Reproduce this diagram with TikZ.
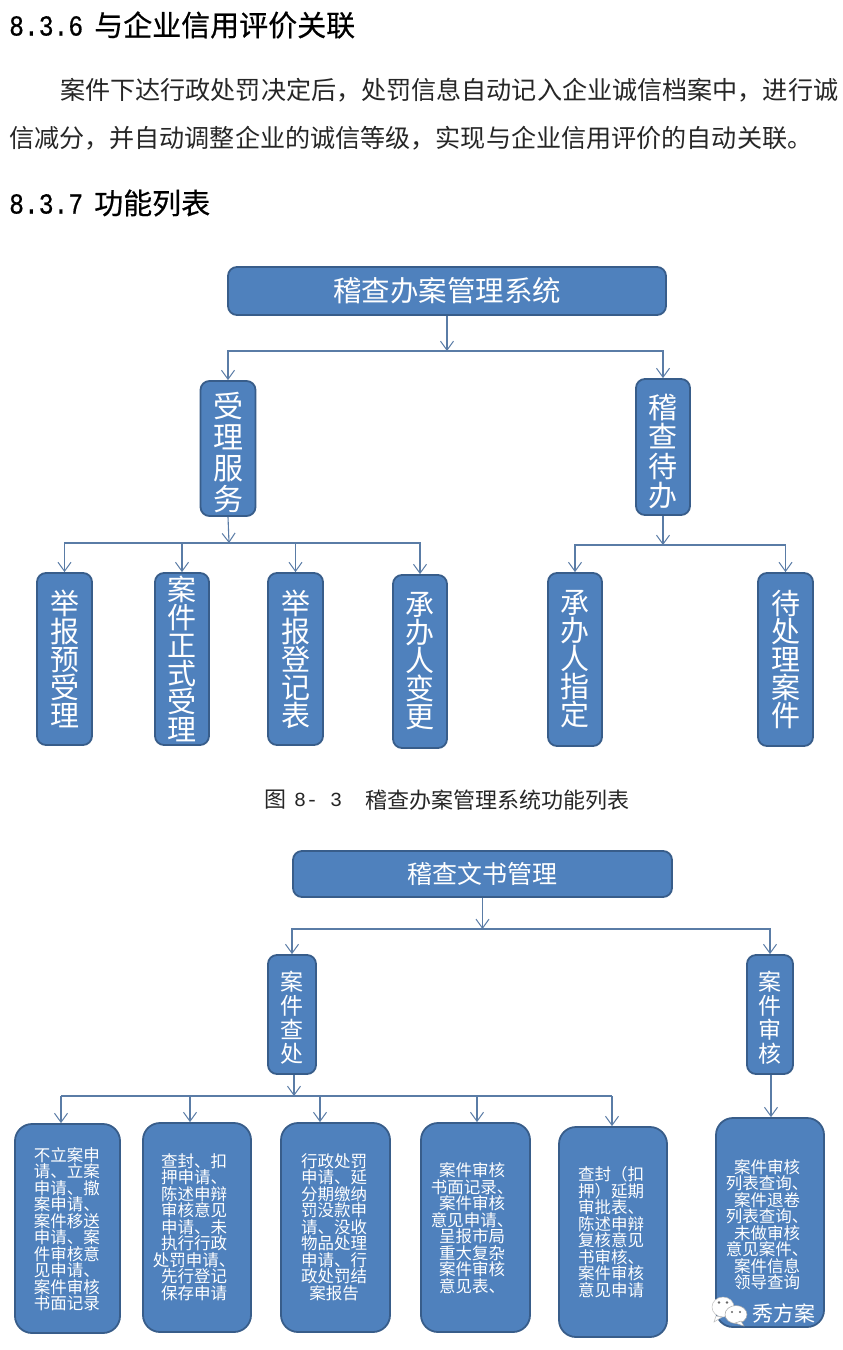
\documentclass[tikz,border=0pt]{standalone}
\usepackage{fontspec}
\setmainfont{Noto Sans CJK SC}
\newfontfamily\headfont[FakeBold=0.5]{Noto Sans CJK SC}
\newfontfamily\latinmono{Liberation Mono}
\newfontfamily\secfont[FakeStretch=0.85,FakeBold=0.5]{Liberation Mono}
\usetikzlibrary{arrows.meta}
\definecolor{panelfill}{HTML}{4F81BD}
\definecolor{paneledge}{HTML}{385D8A}
\definecolor{linkcol}{HTML}{5A7CA6}
\newcommand{\fs}[2]{\fontsize{#1}{#2}\selectfont}
\newcommand{\topstrut}[1]{\rule{0pt}{#1}}
\tikzset{
  panel/.style={draw=paneledge,fill=panelfill,line width=1.8pt,rounded corners=9pt,inner sep=0pt,text=white,align=center},
  tallbox/.style={panel,font=\fs{29}{28}},
  detailbox/.style={panel,rounded corners=17pt},
  detailtext/.style={inner sep=0pt,text=white,align=center,font=\fs{16.5}{16.5}},
  link/.style={draw=linkcol,line width=1.1pt,-{Straight Barb[length=9pt,width=13pt,line width=1pt]}},
  busline/.style={draw=linkcol,line width=1.1pt},
  heading/.style={inner sep=0pt,anchor=west,text=black,font=\headfont\fs{29}{29}},
  secnum/.style={inner sep=0pt,anchor=west,text=black,font=\secfont\fs{29}{29}},
  bodyline/.style={inner sep=0pt,anchor=west,text=black!85,font=\fs{25.1}{25.1}},
  captionline/.style={inner sep=0pt,anchor=west,text=black!85,font=\fs{22}{22}},
}
\begin{document}
\begin{tikzpicture}[x=1pt,y=-1pt]
\useasboundingbox (0,0) rectangle (843,1350);
\fill[white] (0,0) rectangle (843,1350);

% Section text
\node[secnum] (n1) at (9,26) {8.3.6};
\node[heading] (h1) at (94,25) {与企业信用评价关联};
\node[bodyline] (p1) at (60,90) {案件下达行政处罚决定后，处罚信息自动记入企业诚信档案中，进行诚};
\node[bodyline] (p2) at (9,138) {信减分，并自动调整企业的诚信等级，实现与企业信用评价的自动关联。};
\node[secnum] (n2) at (9,204) {8.3.7};
\node[heading] (h2) at (94,203) {功能列表};

% First chart: inspection case management
\node[panel,minimum width=438pt,minimum height=48pt,font=\fs{28.5}{28.5}] (root) at (447,291) {稽查办案管理系统};
\node[tallbox,minimum width=55pt,minimum height=135pt,font=\fs{30}{31}] (svc) at (228,448.5) {\topstrut{34pt}受\\理\\服\\务};
\node[tallbox,minimum width=54pt,minimum height=136pt,font=\fs{29}{29.5}] (todo) at (663,447) {\topstrut{33pt}稽\\查\\待\\办};
\node[tallbox,minimum width=55pt,minimum height=172pt] (c1) at (64.5,659) {举\\报\\预\\受\\理};
\node[tallbox,minimum width=54pt,minimum height=172pt] (c2) at (182,659) {案\\件\\正\\式\\受\\理};
\node[tallbox,minimum width=55pt,minimum height=172pt] (c3) at (295.5,659) {举\\报\\登\\记\\表};
\node[tallbox,minimum width=54pt,minimum height=173pt] (c4) at (420,661.5) {承\\办\\人\\变\\更};
\node[tallbox,minimum width=54pt,minimum height=173pt] (c5) at (575,659.5) {承\\办\\人\\指\\定};
\node[tallbox,minimum width=55pt,minimum height=173pt] (c6) at (785.5,659.5) {待\\处\\理\\案\\件};

\coordinate (busA) at (447,351);
\coordinate (busB) at (229,543);
\coordinate (busC) at (663,545);
\draw[link] (root.south) -- (busA);
\draw[link] (busA) -| (svc.north);
\draw[link] (busA) -| (todo.north);
\draw[link] (svc.south) -- (busB);
\foreach \c in {c1,c2,c3,c4} \draw[link] (busB) -| (\c.north);
\draw[link] (todo.south) -- (busC);
\foreach \c in {c5,c6} \draw[link] (busC) -| (\c.north);

\node[captionline,font=\latinmono\fs{20}{20}] (cap1) at (294,800) {8- 3};
\node[captionline] (cap0) at (264,800) {图};
\node[captionline] (cap2) at (365,800) {稽查办案管理系统功能列表};

% Second chart: inspection document management
\node[panel,minimum width=379pt,minimum height=46pt,font=\fs{25}{25}] (root2) at (482.5,874) {稽查文书管理};
\node[tallbox,minimum width=48pt,minimum height=119pt,font=\fs{23}{24}] (proc) at (292,1014.5) {\topstrut{26pt}案\\件\\查\\处};
\node[tallbox,minimum width=46pt,minimum height=119pt,font=\fs{23}{24}] (audit) at (770,1014.5) {\topstrut{26pt}案\\件\\审\\核};

\node[detailbox,minimum width=105pt,minimum height=209pt] (d1) at (67.5,1228.5) {};
\node[detailbox,minimum width=108pt,minimum height=209pt] (d2) at (197,1227.5) {};
\node[detailbox,minimum width=109pt,minimum height=209pt] (d3) at (335.5,1227.5) {};
\node[detailbox,minimum width=109pt,minimum height=209pt] (d4) at (475.5,1227.5) {};
\node[detailbox,minimum width=108pt,minimum height=210pt] (d5) at (613,1232) {};
\node[detailbox,minimum width=108pt,minimum height=209pt] (d6) at (770,1222.5) {};

\node[detailtext] (t1) at (67,1229) {不立案申\\请、立案\\申请、撤\\案申请、\\案件移送\\申请、案\\件审核意\\见申请、\\案件审核\\书面记录};
\node[detailtext] (t2) at (194,1227) {查封、扣\\押申请、\\陈述申辩\\审核意见\\申请、未\\执行行政\\处罚申请、\\先行登记\\保存申请};
\node[detailtext] (t3) at (334,1227) {行政处罚\\申请、延\\分期缴纳\\罚没款申\\请、没收\\物品处理\\申请、行\\政处罚结\\案报告};
\node[detailtext] (t4) at (472,1228) {案件审核\\书面记录、\\案件审核\\意见申请、\\呈报市局\\重大复杂\\案件审核\\意见表、};
\node[detailtext] (t5) at (611,1232) {查封（扣\\押）延期\\审批表、\\陈述申辩\\复核意见\\书审核、\\案件审核\\意见申请};
\node[detailtext] (t6) at (767,1224.5) {案件审核\\列表查询、\\案件退卷\\列表查询、\\未做审核\\意见案件、\\案件信息\\领导查询};

\coordinate (busD) at (482.5,929);
\coordinate (busE) at (294,1096);
\draw[link] (root2.south) -- (busD);
\draw[link] (busD) -| (proc.north);
\draw[link] (busD) -| (audit.north);
\draw[link] ([xshift=2pt]proc.south) -- (busE);
\draw[busline] (busE) -- ++(-233,0);
\draw[busline] (busE) -- ++(318,0);
\draw[link] (busE -| 61,0) -- ([xshift=-6.5pt]d1.north);
\draw[link] (busE -| 190,0) -- ([xshift=-7pt]d2.north);
\draw[link] (busE -| 320,0) -- ([xshift=-15.5pt]d3.north);
\draw[link] (busE -| 477,0) -- ([xshift=1.5pt]d4.north);
\draw[link] (busE -| 612,0) -- ([xshift=-1pt]d5.north);
\draw[link] ([xshift=1pt]audit.south) -- ([xshift=1pt]d6.north);

% Messaging-app badge with account name, lower right corner
\fill[white,draw=black!25,line width=.5pt] (723,1307) ellipse [x radius=11,y radius=10];
\fill[white,draw=black!25,line width=.5pt] (716,1316) -- (714,1322) -- (722,1317) -- cycle;
\fill[white,draw=black!35,line width=.5pt] (736,1314.5) ellipse [x radius=11,y radius=9];
\fill[white,draw=black!35,line width=.5pt] (741,1321) -- (744,1326) -- (735,1323) -- cycle;
\fill[black!60] (719,1302.5) circle (1.4) (727,1302.5) circle (1.4) (732,1312) circle (1.2) (740,1312) circle (1.2);
\node[inner sep=0pt,text=white,font=\fs{21}{21}] (brand) at (784,1313) {秀方案};
\end{tikzpicture}
\end{document}
